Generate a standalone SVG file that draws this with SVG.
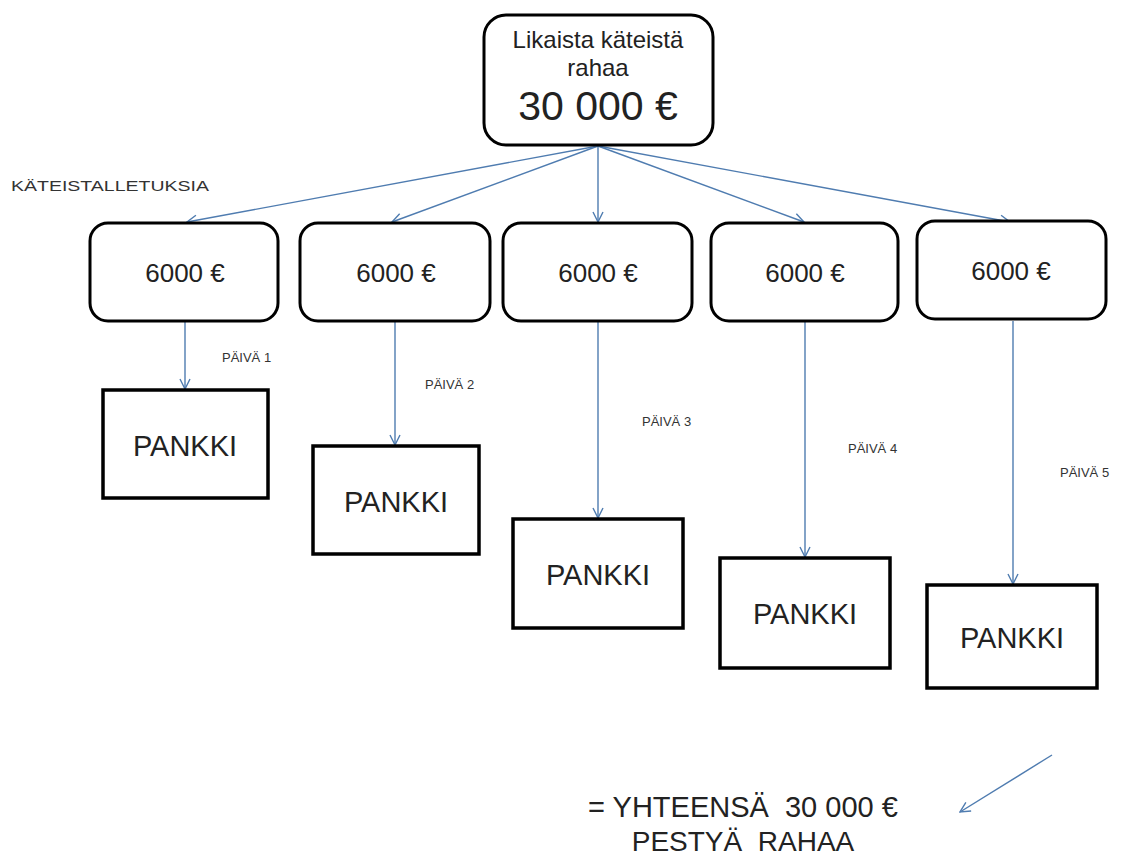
<svg xmlns="http://www.w3.org/2000/svg" width="1126" height="857" viewBox="0 0 1126 857">
<defs>
<style>
.rbox{fill:#fff;stroke:#000;stroke-width:3}
.sbox{fill:#fff;stroke:#000;stroke-width:3.5}
.t{font-family:"Liberation Sans",Arial,sans-serif;fill:#222;text-anchor:middle}
.lbl{font-family:"Liberation Sans",Arial,sans-serif;fill:#333;font-size:13px}
.c{stroke:#4f7cb0;stroke-width:1.4;fill:none;marker-end:url(#ah)}
</style>
<marker id="ah" viewBox="0 0 12 12" refX="11" refY="6" markerWidth="12" markerHeight="12" markerUnits="userSpaceOnUse" orient="auto">
<path d="M1,1 L11,6 L1,11" fill="none" stroke="#4f7cb0" stroke-width="1.4"/>
</marker>
</defs>
<rect width="1126" height="857" fill="#fff"/>
<g id="connectors">
<line class="c" x1="598" y1="146" x2="187" y2="222"/>
<line class="c" x1="598" y1="146" x2="392" y2="222"/>
<line class="c" x1="598" y1="146" x2="598" y2="222"/>
<line class="c" x1="598" y1="146" x2="804" y2="222"/>
<line class="c" x1="598" y1="146" x2="1010" y2="222"/>
<line class="c" x1="185" y1="321" x2="185" y2="389"/>
<line class="c" x1="395" y1="321" x2="395" y2="445"/>
<line class="c" x1="598" y1="321" x2="598" y2="518"/>
<line class="c" x1="805" y1="321" x2="805" y2="557"/>
<line class="c" x1="1013" y1="321" x2="1013" y2="584"/>
<line class="c" x1="1052" y1="755" x2="960" y2="812"/>
</g>
<g id="source">
<rect class="rbox" x="484" y="15" width="229" height="130" rx="22"/>
<text class="t" x="598" y="48" font-size="24">Likaista käteistä</text>
<text class="t" x="598" y="76" font-size="24">rahaa</text>
<text class="t" x="598" y="120" font-size="41">30 000 €</text>
</g>
<text id="label-kateis" class="lbl" x="11" y="191" style="font-size:15px" textLength="198" lengthAdjust="spacingAndGlyphs">KÄTEISTALLETUKSIA</text>
<g id="dep1"><rect class="rbox" x="90" y="223" width="188" height="98" rx="18"/><text class="t" x="185" y="282" font-size="26">6000 €</text></g>
<g id="dep2"><rect class="rbox" x="300" y="223" width="190" height="98" rx="18"/><text class="t" x="396" y="282" font-size="26">6000 €</text></g>
<g id="dep3"><rect class="rbox" x="503" y="223" width="189" height="98" rx="18"/><text class="t" x="598" y="282" font-size="26">6000 €</text></g>
<g id="dep4"><rect class="rbox" x="711" y="223" width="187" height="98" rx="18"/><text class="t" x="805" y="282" font-size="26">6000 €</text></g>
<g id="dep5"><rect class="rbox" x="917" y="221" width="189" height="98" rx="18"/><text class="t" x="1011" y="280" font-size="26">6000 €</text></g>
<g id="day-labels">
<text class="lbl" x="222" y="362">PÄIVÄ 1</text>
<text class="lbl" x="425" y="389">PÄIVÄ 2</text>
<text class="lbl" x="642" y="426">PÄIVÄ 3</text>
<text class="lbl" x="848" y="453">PÄIVÄ 4</text>
<text class="lbl" x="1060" y="477">PÄIVÄ 5</text>
</g>
<g id="bank1"><rect class="sbox" x="103" y="390" width="165" height="108"/><text class="t" x="185" y="456" font-size="29">PANKKI</text></g>
<g id="bank2"><rect class="sbox" x="313" y="446" width="166" height="108"/><text class="t" x="396" y="512" font-size="29">PANKKI</text></g>
<g id="bank3"><rect class="sbox" x="513" y="519" width="170" height="109"/><text class="t" x="598" y="585" font-size="29">PANKKI</text></g>
<g id="bank4"><rect class="sbox" x="720" y="558" width="170" height="110"/><text class="t" x="805" y="624" font-size="29">PANKKI</text></g>
<g id="bank5"><rect class="sbox" x="927" y="585" width="170" height="103"/><text class="t" x="1012" y="648" font-size="29">PANKKI</text></g>
<g id="total">
<text class="t" x="743" y="817" font-size="29" xml:space="preserve">= YHTEENSÄ  30 000 €</text>
<text class="t" x="743" y="851" font-size="28" xml:space="preserve">PESTYÄ  RAHAA</text>
</g>
</svg>
